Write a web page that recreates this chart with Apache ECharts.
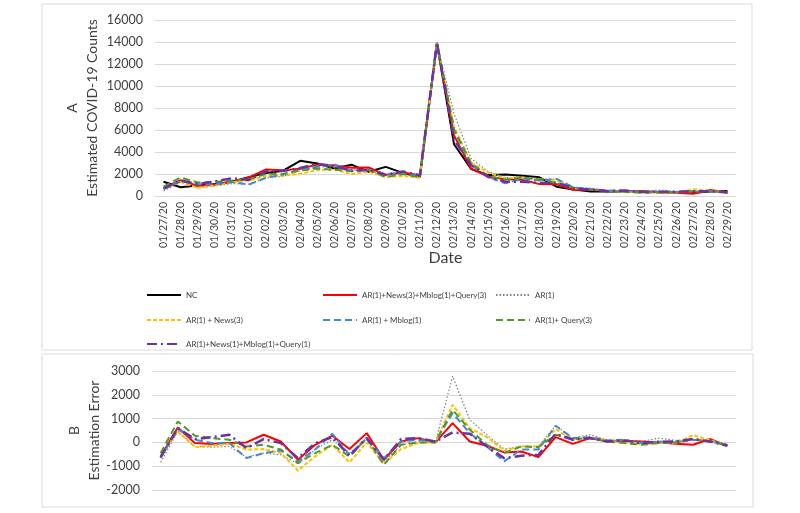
<!DOCTYPE html>
<html>
<head>
<meta charset="utf-8">
<script src="https://cdn.jsdelivr.net/npm/echarts@6/dist/echarts.min.js"></script>
<style>
  html, body { margin: 0; padding: 0; background: #fff; }
  #chart { width: 800px; height: 513px; }
</style>
</head>
<body>
<div id="chart"></div>
<script>
// dates on the category axis
const dates = ['01/27/20', '01/28/20', '01/29/20', '01/30/20', '01/31/20', '02/01/20', '02/02/20',
  '02/03/20', '02/04/20', '02/05/20', '02/06/20', '02/07/20', '02/08/20', '02/09/20', '02/10/20',
  '02/11/20', '02/12/20', '02/13/20', '02/14/20', '02/15/20', '02/16/20', '02/17/20', '02/18/20',
  '02/19/20', '02/20/20', '02/21/20', '02/22/20', '02/23/20', '02/24/20', '02/25/20', '02/26/20',
  '02/27/20', '02/28/20', '02/29/20']

// panel A: estimated counts
const countNC = [1300, 800, 950, 1100, 1300, 1700, 2100, 2300, 3200, 2950, 2500, 2850, 2200, 2650, 2100, 1700, 13900, 4700, 2450, 1900, 1950, 1850, 1700, 850, 600, 400, 400, 400, 400, 350, 350, 300, 400, 450]
const countFull3 = [710, 1430, 920, 1030, 1270, 1700, 2420, 2340, 2470, 2850, 2780, 2570, 2590, 1920, 2140, 1880, 13900, 5510, 2490, 1760, 1530, 1470, 1080, 1070, 540, 580, 440, 470, 440, 350, 290, 200, 540, 310]
const countAR = [460, 1260, 780, 900, 1130, 1080, 1650, 1780, 2300, 2650, 2610, 2400, 2310, 1850, 2000, 1740, 13900, 7480, 3400, 2220, 1670, 1680, 1530, 1550, 780, 720, 510, 485, 440, 530, 435, 410, 485, 380]
const countNews = [710, 1260, 750, 960, 1240, 1400, 1820, 1850, 2020, 2360, 2400, 2010, 2200, 1750, 1820, 1670, 13900, 6280, 3050, 2120, 1610, 1680, 1530, 1410, 710, 620, 485, 370, 330, 320, 320, 610, 485, 340]
const countMblog = [640, 1360, 1060, 1070, 1270, 1040, 1650, 1960, 2400, 2650, 2860, 2330, 2380, 1990, 2140, 1810, 13940, 5930, 2840, 1730, 1150, 1550, 1400, 1550, 780, 620, 485, 510, 370, 390, 350, 410, 440, 350]
const countQuery = [850, 1680, 1230, 1280, 1410, 1530, 2000, 2000, 2330, 2500, 2400, 2260, 2380, 1710, 2000, 1700, 13900, 6070, 2980, 1800, 1500, 1680, 1500, 1170, 740, 580, 440, 370, 300, 320, 350, 440, 440, 320]
const countFull1 = [680, 1400, 1090, 1320, 1620, 1460, 2240, 2270, 2540, 2920, 2720, 2290, 2380, 1920, 2240, 1880, 13930, 5120, 2810, 1730, 1290, 1290, 1180, 1210, 710, 580, 440, 485, 370, 380, 390, 440, 440, 310]

// panel B: estimation error
const errFull3 = [-590, 630, -30, -70, -30, 0, 320, 40, -730, -100, 280, -280, 390, -730, 40, 180, 0, 810, 40, -140, -420, -380, -620, 220, -60, 180, 40, 70, 40, 0, -60, -100, 140, -140]
const errAR = [-840, 460, -170, -200, -170, -620, -450, -520, -900, -300, 110, -450, 110, -800, -100, 40, 0, 2780, 950, 320, -280, -170, -170, 700, 180, 320, 110, 85, 40, 180, 85, 110, 85, -70]
const errNews = [-590, 460, -200, -140, -60, -300, -280, -450, -1180, -590, -100, -840, 0, -900, -280, -30, 0, 1580, 600, 220, -340, -170, -170, 560, 110, 220, 85, -30, -70, -30, -30, 310, 85, -110]
const errMblog = [-660, 560, 110, -30, -30, -660, -450, -340, -800, -300, 360, -520, 180, -660, 40, 110, 40, 1230, 390, -170, -800, -300, -300, 700, 180, 220, 85, 110, -30, 40, 0, 110, 40, -100]
const errQuery = [-450, 880, 280, 180, 110, -170, -100, -300, -870, -450, -100, -590, 180, -940, -100, 0, 0, 1370, 530, -100, -450, -170, -200, 320, 140, 180, 40, -30, -100, -30, 0, 140, 40, -130]
const errFull1 = [-620, 600, 140, 220, 320, -240, 140, -30, -660, -30, 220, -560, 180, -730, 140, 180, 30, 420, 360, -170, -660, -560, -520, 360, 110, 180, 40, 85, -30, 30, 40, 140, 40, -140]

const countTicks = [0, 16000, 2000]
const errTicks = [-2000, 3000, 1000]

const FONT = 'Lato, "Open Sans", sans-serif'

const models = [
  { name: 'NC', color: '#000000', type: 'solid', width: 2, a: countNC, b: null },
  { name: 'AR(1)+News(3)+Mblog(1)+Query(3)', color: '#ff0000', type: 'solid', width: 2, a: countFull3, b: errFull3 },
  { name: 'AR(1)', color: '#808080', type: [1.5, 2], width: 1.2, a: countAR, b: errAR },
  { name: 'AR(1) + News(3)', color: '#ffc000', type: [4, 2], width: 2, a: countNews, b: errNews },
  { name: 'AR(1) + Mblog(1)', color: '#3f8ad8', type: [7, 4], width: 2, a: countMblog, b: errMblog },
  { name: 'AR(1)+ Query(3)', color: '#4e9a2c', type: [7, 4], width: 2, a: countQuery, b: errQuery },
  { name: 'AR(1)+News(1)+Mblog(1)+Query(1)', color: '#7030a0', type: [10, 4, 2, 4], width: 2.5, a: countFull1, b: errFull1 }
]

const legendPos = [[141, 286], [317, 286], [490, 286], [141, 311], [317, 311], [490, 311], [141, 335]]

const series = []
models.forEach(m => {
  const style = { color: m.color, width: m.width, type: m.type }
  series.push({
    name: m.name, type: 'line', xAxisIndex: 0, yAxisIndex: 0, data: m.a,
    symbol: 'none', itemStyle: { color: m.color }, lineStyle: style, animation: false
  })
  if (m.b) {
    series.push({
      name: m.name, type: 'line', xAxisIndex: 1, yAxisIndex: 1, data: m.b,
      symbol: 'none', itemStyle: { color: m.color }, lineStyle: style, animation: false
    })
  }
})

const chart = echarts.init(document.getElementById('chart'), null, { renderer: 'canvas' })
chart.setOption({
  backgroundColor: '#fff',
  textStyle: { fontFamily: FONT },
  graphic: [
    { type: 'rect', shape: { x: 42, y: 4, width: 710, height: 346 }, style: { fill: 'none', stroke: '#d9d9d9', lineWidth: 1 }, z: -1 },
    { type: 'rect', shape: { x: 42, y: 354, width: 711, height: 153 }, style: { fill: 'none', stroke: '#d9d9d9', lineWidth: 1 }, z: -1 }
  ],
  legend: models.map((m, i) => ({
    data: [m.name],
    left: legendPos[i][0],
    top: legendPos[i][1],
    itemWidth: 34,
    itemHeight: 10,
    itemGap: 4,
    itemStyle: { opacity: 0 },
    textStyle: { fontSize: 8, color: '#404040', fontFamily: FONT },
    selectedMode: false
  })),
  grid: [
    { left: 155, right: 64, top: 20, height: 176 },
    { left: 152, right: 64, top: 371, height: 119 }
  ],
  xAxis: [
    {
      type: 'category', gridIndex: 0, data: dates, boundaryGap: true,
      name: 'Date', nameLocation: 'middle', nameGap: 54, nameMoveOverlap: false,
      nameTextStyle: { fontSize: 16, color: '#404040' },
      axisLine: { lineStyle: { color: '#d9d9d9' } },
      axisTick: { show: false },
      axisLabel: { rotate: 90, fontSize: 10.5, color: '#404040', margin: 6, interval: 0 }
    },
    {
      type: 'category', gridIndex: 1, data: dates, boundaryGap: true,
      axisLine: { show: false }, axisTick: { show: false }, axisLabel: { show: false }
    }
  ],
  yAxis: [
    {
      type: 'value', gridIndex: 0, min: countTicks[0], max: countTicks[1], interval: countTicks[2],
      name: 'A\nEstimated COVID-19 Counts', nameLocation: 'middle', nameGap: 53, nameRotate: 90,
      nameMoveOverlap: false,
      nameTextStyle: { fontSize: 14, color: '#404040', lineHeight: 20 },
      axisLine: { show: false }, axisTick: { show: false },
      axisLabel: { fontSize: 12.5, color: '#404040', margin: 12, formatter: v => String(v) },
      splitLine: { lineStyle: { color: '#d9d9d9' } }
    },
    {
      type: 'value', gridIndex: 1, min: errTicks[0], max: errTicks[1], interval: errTicks[2],
      name: 'B\nEstimation Error', nameLocation: 'middle', nameGap: 48, nameRotate: 90,
      nameMoveOverlap: false,
      nameTextStyle: { fontSize: 14, color: '#404040', lineHeight: 20 },
      axisLine: { show: false }, axisTick: { show: false },
      axisLabel: { fontSize: 12.5, color: '#404040', margin: 12, formatter: v => String(v) },
      splitLine: { lineStyle: { color: '#d9d9d9' } }
    }
  ],
  series: series
})
</script>
</body>
</html>
